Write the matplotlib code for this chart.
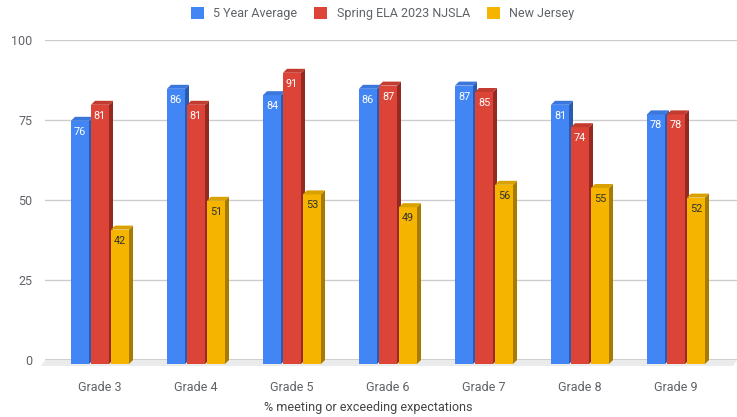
import matplotlib

matplotlib.use("Agg")
import matplotlib.pyplot as plt
from matplotlib.patches import Patch, Polygon
from matplotlib.transforms import ScaledTranslation, offset_copy

plt.rcParams["font.family"] = ["Roboto", "DejaVu Sans"]

grades = ["Grade 3", "Grade 4", "Grade 5", "Grade 6", "Grade 7", "Grade 8", "Grade 9"]
series_names = ["5 Year Average", "Spring ELA 2023 NJSLA", "New Jersey"]
five_year_avg = [76, 86, 84, 86, 87, 81, 78]
spring_ela_2023 = [81, 81, 91, 87, 85, 74, 78]
new_jersey = [42, 51, 53, 49, 56, 55, 52]
y_ticks = [0, 25, 50, 75, 100]

colors = ["#4285f4", "#db4437", "#f4b400"]
top_colors = ["#3a76dc", "#c23b2f", "#d9a000"]
side_colors = ["#2b5bb0", "#962a22", "#a77a00"]
label_colors = ["white", "white", "#333333"]

W, H, DPI = 737, 417, 100
DEPTH = 4  # px, 3d offset between front and back planes
PX_PER_CAT = 96
PX_PER_UNIT = 3.2

fig = plt.figure(figsize=(W / DPI, H / DPI), dpi=DPI)
ax_left, ax_right, ax_top, ax_bottom = 45, 737, 40, 360
ax = fig.add_axes([ax_left / W, (H - ax_bottom) / H, (ax_right - ax_left) / W, (ax_bottom - ax_top) / H])

x0_px = 104
ax.set_xlim((ax_left - x0_px) / PX_PER_CAT, (ax_right - x0_px) / PX_PER_CAT)
ax.set_ylim(0, 100)
for s in ax.spines.values():
    s.set_visible(False)

ax.set_yticks(y_ticks)
ax.yaxis.grid(True, color="#cccccc", linewidth=1)
ax.set_axisbelow(True)
ax.tick_params(axis="y", length=0, pad=9, labelsize=9, labelcolor="#5f6368")
ax.tick_params(axis="x", length=0, pad=15, labelsize=9, labelcolor="#5f6368")
ax.set_xticks(range(len(grades)), grades)
for lbl in ax.get_xticklabels():
    lbl.set_transform(lbl.get_transform() + ScaledTranslation(-DEPTH / DPI, 0, fig.dpi_scale_trans))

# floor between back and front planes
dx = DEPTH / PX_PER_CAT
dy = DEPTH / PX_PER_UNIT
front = offset_copy(ax.transData, fig, x=-DEPTH, y=-DEPTH, units="dots")
xl = ax.get_xlim()
floor = Polygon([(xl[0], 0), (xl[1], 0), (xl[1] - dx, -dy - 0.6), (xl[0] - dx, -dy - 0.6)],
                closed=True, facecolor="#ebebeb", edgecolor="none", zorder=1, clip_on=False)
ax.add_patch(floor)
ax.axhline(0, color="#333333", linewidth=1, zorder=2)

bar_w = 18 / PX_PER_CAT
step = 20 / PX_PER_CAT
all_series = [five_year_avg, spring_ela_2023, new_jersey]

for k, vals in enumerate(all_series):
    offs = (k - 1) * step
    xs = [i + offs for i in range(len(grades))]
    ax.bar(xs, vals, width=bar_w, color=colors[k], transform=front, zorder=3 + k * 0.1,
           clip_on=False, linewidth=0)
    for x, v in zip(xs, vals):
        r = x + bar_w / 2
        l = x - bar_w / 2
        side = Polygon([(r, 0), (r, v), (r + dx, v + dy), (r + dx, dy)], closed=True,
                       facecolor=side_colors[k], edgecolor="none", transform=front,
                       zorder=3 + k * 0.1, clip_on=False)
        top = Polygon([(l, v), (r, v), (r + dx, v + dy), (l + dx, v + dy)], closed=True,
                      facecolor=top_colors[k], edgecolor="none", transform=front,
                      zorder=3 + k * 0.1, clip_on=False)
        ax.add_patch(side)
        ax.add_patch(top)
        ax.annotate(f"{v}", xy=(x, v), xycoords=front, xytext=(0, -11), textcoords="offset pixels",
                    ha="center", va="center", fontsize=7.8, color=label_colors[k], zorder=5)

handles = [Patch(facecolor=c, edgecolor="none") for c in colors]
fig.legend(handles, series_names, loc="upper center", bbox_to_anchor=(0.519, 1.01), ncol=3,
           frameon=False, fontsize=9, handlelength=1.05, handleheight=1.05, handletextpad=0.75,
           columnspacing=1.35, labelcolor="#5f6368")

fig.text(0.5, (H - 407) / H, "% meeting or exceeding expectations", ha="center", va="center",
         fontsize=9, color="#444444")

fig.savefig("out.png", dpi=DPI)
